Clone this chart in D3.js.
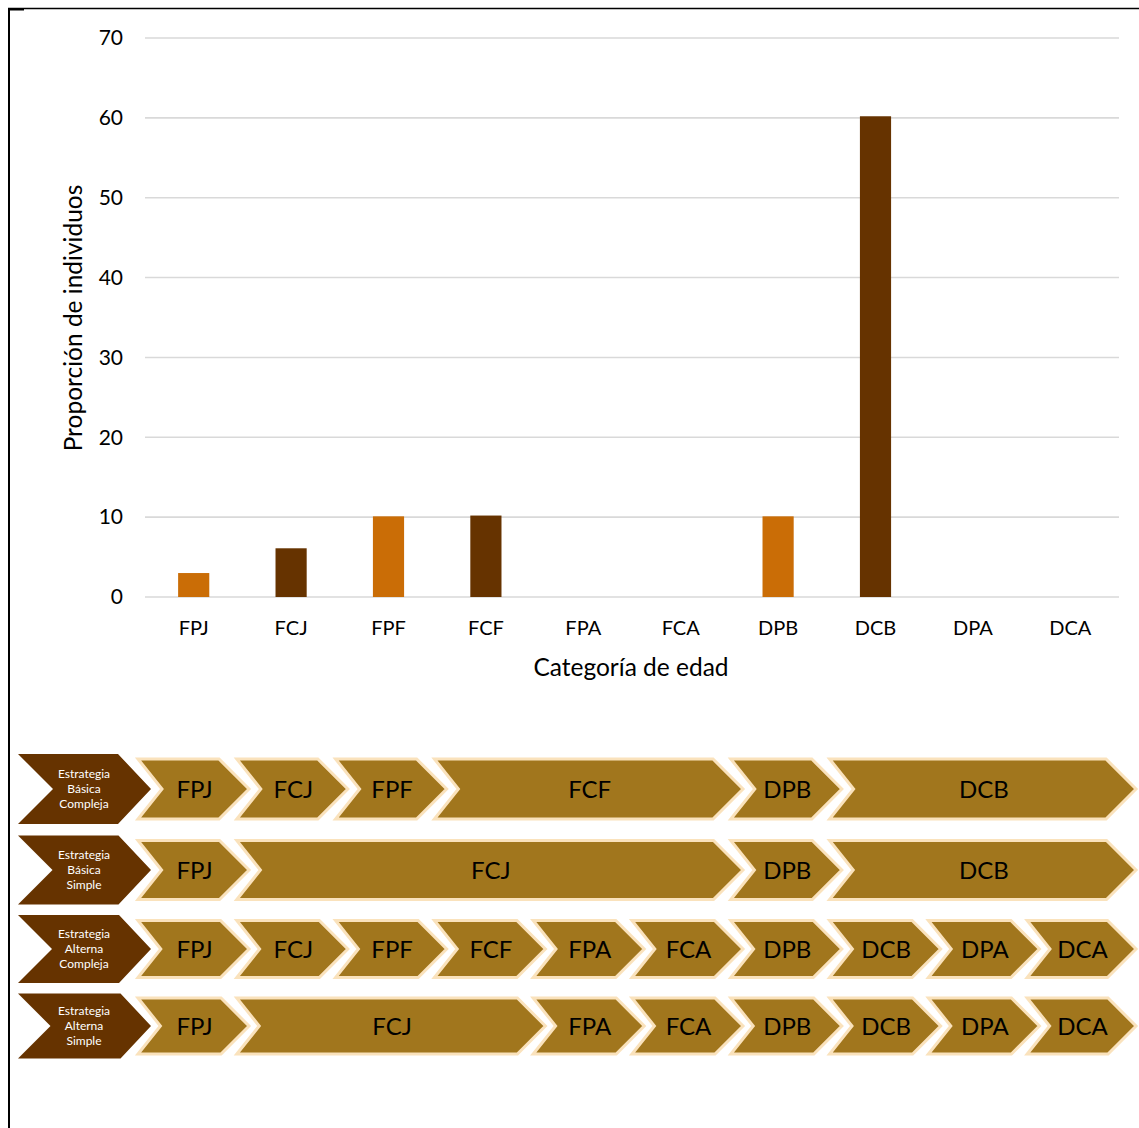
<!DOCTYPE html>
<html>
<head>
<meta charset="utf-8">
<script src="https://cdn.jsdelivr.net/npm/d3@7"></script>
<style>
  html, body { margin: 0; padding: 0; background: #fff; }
  svg { display: block; }
  text { font-family: Lato, "Open Sans", sans-serif; }
</style>
</head>
<body>
<svg id="chart" width="1139" height="1128"></svg>
<script>
// Age categories and the share of individuals in each one (%)
const categories = ["FPJ", "FCJ", "FPF", "FCF", "FPA", "FCA", "DPB", "DCB", "DPA", "DCA"];
const proportions = [3.0, 6.1, 10.1, 10.2, 0, 0, 10.1, 60.2, 0, 0];
const yTicks = [0, 10, 20, 30, 40, 50, 60, 70];

// Strategies: name lines, the stages they pass through and how many columns each stage covers
const strategyNames = [
  ["Estrategia", "Básica", "Compleja"],
  ["Estrategia", "Básica", "Simple"],
  ["Estrategia", "Alterna", "Compleja"],
  ["Estrategia", "Alterna", "Simple"]
];
const strategyStages = [
  ["FPJ", "FCJ", "FPF", "FCF", "DPB", "DCB"],
  ["FPJ", "FCJ", "DPB", "DCB"],
  ["FPJ", "FCJ", "FPF", "FCF", "FPA", "FCA", "DPB", "DCB", "DPA", "DCA"],
  ["FPJ", "FCJ", "FPA", "FCA", "DPB", "DCB", "DPA", "DCA"]
];
const strategySpans = [
  [1, 1, 1, 3, 1, 3],
  [1, 5, 1, 3],
  [1, 1, 1, 1, 1, 1, 1, 1, 1, 1],
  [1, 3, 1, 1, 1, 1, 1, 1]
];

const ORANGE = "#CA6D06";
const BROWN = "#663300";
const GOLD = "#A1761D";
const CREAM = "#FAE2BC";

const svg = d3.select("#chart");

// Frame lines
svg.append("line").attr("x1", 8).attr("x2", 1139).attr("y1", 8.5).attr("y2", 8.5)
  .attr("stroke", "#000").attr("stroke-width", 1.6);
svg.append("line").attr("x1", 9).attr("x2", 9).attr("y1", 8).attr("y2", 1128)
  .attr("stroke", "#000").attr("stroke-width", 2);
svg.append("rect").attr("x", 8).attr("y", 8).attr("width", 16).attr("height", 2.5).attr("fill", "#000");

// ---- Bar chart ----
const plot = { left: 145, right: 1119, top: 38, bottom: 597 };

const x = d3.scaleBand()
  .domain(categories)
  .range([plot.left, plot.right])
  .paddingInner(0.68)
  .paddingOuter(0.34);

const y = d3.scaleLinear()
  .domain([0, 70])
  .range([plot.bottom, plot.top]);

const g = svg.append("g");

// Horizontal gridlines
g.append("g")
  .selectAll("line")
  .data(yTicks)
  .join("line")
  .attr("x1", plot.left)
  .attr("x2", plot.right)
  .attr("y1", d => y(d))
  .attr("y2", d => y(d))
  .attr("stroke", "#d9d9d9")
  .attr("stroke-width", 1.6);

// Y axis labels
const yAxis = d3.axisLeft(y).tickValues(yTicks).tickSize(0).tickPadding(0);
g.append("g")
  .attr("transform", `translate(${plot.left - 22},0)`)
  .call(yAxis)
  .call(s => s.select(".domain").remove())
  .call(s => s.selectAll("text")
    .attr("font-family", "Lato, sans-serif")
    .attr("font-size", 21)
    .attr("fill", "#000"));

// Bars
g.append("g")
  .selectAll("rect")
  .data(categories.map((c, i) => ({ c, v: proportions[i] })).filter(d => d.v > 0))
  .join("rect")
  .attr("x", d => x(d.c))
  .attr("width", x.bandwidth())
  .attr("y", d => y(d.v))
  .attr("height", d => y(0) - y(d.v))
  .attr("fill", d => d.c[1] === "P" ? ORANGE : BROWN);

// X axis labels
const xAxis = d3.axisBottom(x).tickSize(0).tickPadding(0);
g.append("g")
  .attr("transform", `translate(0,${plot.bottom + 24})`)
  .call(xAxis)
  .call(s => s.select(".domain").remove())
  .call(s => s.selectAll("text")
    .attr("font-family", "Lato, sans-serif")
    .attr("font-size", 20)
    .attr("fill", "#000"));

// Axis titles
g.append("text")
  .attr("x", 631)
  .attr("y", 676)
  .attr("text-anchor", "middle")
  .attr("font-size", 24.5)
  .attr("fill", "#000")
  .text("Categoría de edad");

g.append("text")
  .attr("transform", `translate(82,318) rotate(-90)`)
  .attr("text-anchor", "middle")
  .attr("font-size", 24.5)
  .attr("fill", "#000")
  .text("Proporción de individuos");

// ---- Strategy chevrons ----
const rowCenters = [789, 870, 949, 1026];
const headHeights = [70, 69, 68, 65];
const stageHeights = [60, 59, 57, 56];

const colStart = 138, colStep = 98.8, chevronWidth = 111;
const col = d3.scaleLinear().domain([0, 1]).range([colStart, colStart + colStep]);

function chevron(x0, x1, cy, h, tip, notch) {
  const p = d3.path();
  p.moveTo(x0, cy - h / 2);
  p.lineTo(x1 - tip, cy - h / 2);
  p.lineTo(x1, cy);
  p.lineTo(x1 - tip, cy + h / 2);
  p.lineTo(x0, cy + h / 2);
  p.lineTo(x0 + notch, cy);
  p.closePath();
  return p.toString();
}

const chev = svg.append("g");

strategyNames.forEach((lines, r) => {
  const cy = rowCenters[r];
  const hh = headHeights[r];

  // Strategy name chevron
  chev.append("path")
    .attr("d", chevron(18, 151, cy, hh, hh / 2 - 2, hh / 2))
    .attr("fill", BROWN);
  const t = chev.append("text")
    .attr("x", 84)
    .attr("y", cy)
    .attr("text-anchor", "middle")
    .attr("font-size", 12)
    .attr("fill", "#fff");
  lines.forEach((ln, k) => {
    t.append("tspan")
      .attr("x", 84)
      .attr("y", cy + (k - 1) * 15 + 4)
      .text(ln);
  });

  // Stage chevrons
  const sh = stageHeights[r];
  let c = 0;
  strategyStages[r].forEach((stage, k) => {
    const span = strategySpans[r][k];
    const x0 = col(c);
    const x1 = Math.min(col(c + span - 1) + chevronWidth, 1136);
    chev.append("path")
      .attr("d", chevron(x0, x1, cy, sh, sh / 2, sh / 2 * 0.8))
      .attr("fill", GOLD)
      .attr("stroke", CREAM)
      .attr("stroke-width", 3)
      .attr("stroke-linejoin", "miter");
    chev.append("text")
      .attr("x", (x0 + x1) / 2 + 1)
      .attr("y", cy)
      .attr("dy", "0.36em")
      .attr("text-anchor", "middle")
      .attr("font-size", 24)
      .attr("fill", "#000")
      .text(stage);
    c += span;
  });
});
</script>
</body>
</html>
